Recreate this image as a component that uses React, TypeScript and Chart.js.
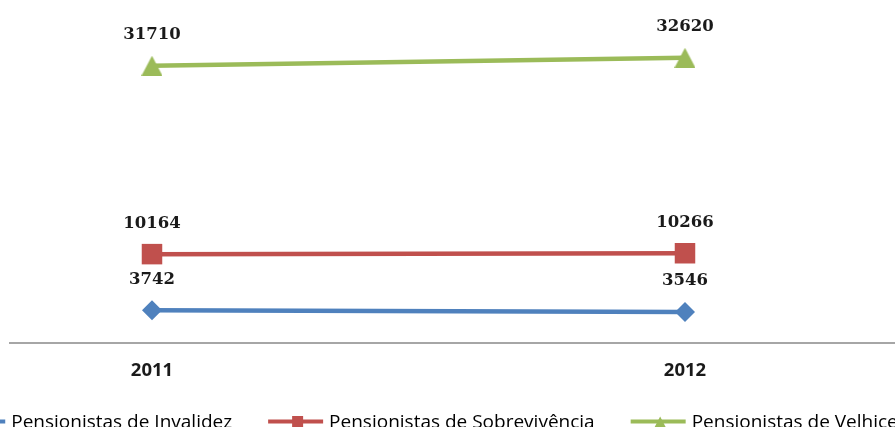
import { useEffect, useRef } from 'react';
import { Chart, registerables } from 'chart.js';

Chart.register(...registerables);

// Years on the horizontal axis
const categories = ['2011', '2012'];

// Series names and values per year
const seriesNames = [
  'Pensionistas de Invalidez',
  'Pensionistas de Sobrevivência',
  'Pensionistas de Velhice',
];
const invalidez = [3742, 3546];
const sobrevivencia = [10164, 10266];
const velhice = [31710, 32620];

const BLUE = '#4F81BD';
const RED = '#C0504D';
const GREEN = '#9BBB59';

// Triangle drawn into a small canvas so it is centred on its bounding box
function triangleImage(color: string, w: number, h: number) {
  const c = document.createElement('canvas');
  c.width = w;
  c.height = h;
  const g = c.getContext('2d')!;
  g.fillStyle = color;
  g.beginPath();
  g.moveTo(w / 2, 0);
  g.lineTo(w, h);
  g.lineTo(0, h);
  g.closePath();
  g.fill();
  return c;
}

// Value labels above each point
const valueLabels = {
  id: 'valueLabels',
  afterDatasetsDraw(chart: any) {
    const ctx = chart.ctx;
    ctx.save();
    ctx.font = 'bold 16.5px "DejaVu Serif"';
    ctx.fillStyle = '#1a1a1a';
    ctx.textAlign = 'center';
    ctx.textBaseline = 'alphabetic';
    chart.data.datasets.forEach((ds: any, i: number) => {
      const meta = chart.getDatasetMeta(i);
      meta.data.forEach((pt: any, j: number) => {
        ctx.fillText(String(ds.data[j].y), pt.x, pt.y - 26.5);
      });
    });
    ctx.restore();
  },
};

// Legend with line + marker samples, laid out in one row at the bottom
const lineLegend = {
  id: 'lineLegend',
  afterDraw(chart: any) {
    const ctx = chart.ctx;
    ctx.save();
    ctx.font = '19px "Open Sans"';
    const lineLen = 55;
    const textGap = 6;
    const itemGap = 36;
    const items = chart.data.datasets.map((ds: any) => ({
      label: ds.label as string,
      color: ds.borderColor as string,
      style: ds.legendMarker as string,
      w: lineLen + textGap + ctx.measureText(ds.label).width,
    }));
    const total = items.reduce((s: number, it: any) => s + it.w, 0) + itemGap * (items.length - 1);
    let x = chart.width / 2 - 23.5 - total / 2;
    const ly = 421.5;
    items.forEach((it: any) => {
      ctx.strokeStyle = it.color;
      ctx.lineWidth = 4;
      ctx.beginPath();
      ctx.moveTo(x, ly);
      ctx.lineTo(x + lineLen, ly);
      ctx.stroke();
      const mx = x + 29.5;
      ctx.fillStyle = it.color;
      ctx.beginPath();
      if (it.style === 'rect') {
        ctx.rect(mx - 5.5, ly - 5.5, 11, 11);
      } else if (it.style === 'triangle') {
        ctx.moveTo(mx, ly - 5);
        ctx.lineTo(mx + 6, ly + 6.5);
        ctx.lineTo(mx - 6, ly + 6.5);
        ctx.closePath();
      } else {
        ctx.moveTo(mx - 6.5, ly);
        ctx.lineTo(mx, ly - 6.5);
        ctx.lineTo(mx + 6.5, ly);
        ctx.lineTo(mx, ly + 6.5);
        ctx.closePath();
      }
      ctx.fill();
      ctx.fillStyle = '#000';
      ctx.textAlign = 'left';
      ctx.textBaseline = 'alphabetic';
      ctx.fillText(it.label, x + lineLen + textGap, 427.5);
      x += it.w + itemGap;
    });
    ctx.restore();
  },
};

export default function App() {
  const ref = useRef<HTMLCanvasElement>(null);

  useEffect(() => {
    if (!ref.current) return;
    const toPoints = (vals: number[]) =>
      vals.map((v, i) => ({ x: Number(categories[i]), y: v }));

    const chart = new Chart(ref.current, {
      type: 'line',
      data: {
        datasets: [
          {
            label: seriesNames[0],
            data: toPoints(invalidez),
            borderColor: BLUE,
            backgroundColor: BLUE,
            borderWidth: 4.5,
            pointStyle: 'rectRot',
            pointRadius: 10,
            pointBorderWidth: 0,
            legendMarker: 'rectRot',
          } as any,
          {
            label: seriesNames[1],
            data: toPoints(sobrevivencia),
            borderColor: RED,
            backgroundColor: RED,
            borderWidth: 4.5,
            pointStyle: 'rect',
            pointRadius: 14.5,
            pointBorderWidth: 0,
            legendMarker: 'rect',
          } as any,
          {
            label: seriesNames[2],
            data: toPoints(velhice),
            borderColor: GREEN,
            backgroundColor: GREEN,
            borderWidth: 4.5,
            pointStyle: triangleImage(GREEN, 21, 20),
            pointRadius: 11,
            pointBorderWidth: 0,
            legendMarker: 'triangle',
          } as any,
        ],
      },
      options: {
        responsive: false,
        animation: false,
        layout: { autoPadding: false, padding: { left: 10, right: 0, top: 2, bottom: 0 } },
        plugins: {
          legend: { display: false },
          tooltip: { enabled: false },
        },
        scales: {
          x: {
            type: 'linear',
            min: 2010.7336,
            max: 2012.394,
            afterBuildTicks: (s: any) => {
              s.ticks = categories.map((c) => ({ value: Number(c) }));
            },
            afterFit: (s: any) => {
              s.height = 84;
            },
            grid: { display: false, drawTicks: false },
            border: { display: true, color: '#A6A6A6', width: 2 },
            ticks: {
              autoSkip: false,
              maxRotation: 0,
              padding: 17,
              color: '#1a1a1a',
              font: { family: '"Open Sans"', size: 18.5, weight: 'bold' },
              callback: (v: any) => String(v),
            },
          },
          y: {
            display: false,
            min: 0,
            max: 39000,
          },
        },
      },
      plugins: [valueLabels, lineLegend],
    });
    return () => chart.destroy();
  }, []);

  return (
    <div style={{ width: 895, height: 427, background: '#fff' }}>
      <style>{'body{margin:0;background:#fff}'}</style>
      <canvas ref={ref} width={895} height={427} style={{ display: 'block' }} />
    </div>
  );
}
